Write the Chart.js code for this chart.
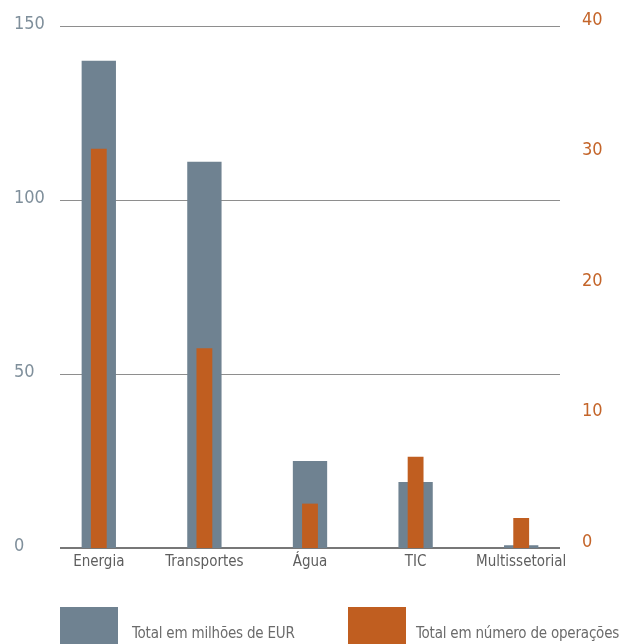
<!DOCTYPE html>
<html>
<head>
<meta charset="utf-8">
<script src="https://cdn.jsdelivr.net/npm/chart.js@4.4.1/dist/chart.umd.min.js"></script>
<style>
  html, body { margin: 0; padding: 0; background: #fff; }
  #wrap { position: relative; width: 630px; height: 644px; overflow: hidden; }
  #legend { position: absolute; left: 0; top: 0; width: 630px; height: 644px; pointer-events: none;
            font-family: "Liberation Sans Narrow", "DejaVu Sans Condensed", sans-serif; font-size: 15px; color: #6b6b6b; }
  .lg-box { position: absolute; top: 607px; width: 58px; height: 40px; }
  .lg-text { position: absolute; top: 624px; white-space: nowrap; letter-spacing: -0.2px; }
</style>
</head>
<body>
<div id="wrap">
  <canvas id="bar-chartcanvas-1" width="630" height="644"></canvas>
  <div id="legend"></div>
</div>
<script>
var sectors = ["Energia", "Transportes", "Água", "TIC", "Multissetorial"];
var totalEUR = [140, 111, 25, 19, 0.8];         // milhões de EUR, eixo esquerdo
var totalOps = [30.6, 15.3, 3.4, 7, 2.3];       // número de operações, eixo direito
var eurTicks = [0, 50, 100, 150];
var opsTicks = [0, 10, 20, 30, 40];

var seriesNames = ["Total em milhões de EUR", "Total em número de operações"];
var seriesColors = ["#6f8291", "#c05e20"];

var fontFamily = '"Liberation Sans Narrow", "DejaVu Sans Condensed", sans-serif';

// horizontal rules at the left axis ticks, slightly inset from the plot edges
var hLines = {
	id: "hLines",
	beforeDatasetsDraw: function (chart) {
		var ctx = chart.ctx;
		var area = chart.chartArea;
		var y = chart.scales.y;
		var x0 = area.left + 14, x1 = area.right - 14;
		ctx.save();
		eurTicks.forEach(function (v) {
			var py = Math.round(y.getPixelForValue(v));
			ctx.beginPath();
			if (v === 0) {
				ctx.strokeStyle = "#777";
				ctx.lineWidth = 2;
			} else {
				ctx.strokeStyle = "#8e8e8e";
				ctx.lineWidth = 1;
				py += 0.5;
			}
			ctx.moveTo(x0, py);
			ctx.lineTo(x1, py);
			ctx.stroke();
		});
		ctx.restore();
	}
};

var ctx = document.getElementById("bar-chartcanvas-1");

var data = {
	labels: sectors,
	datasets: [
		{
			label: seriesNames[0],
			data: totalEUR,
			yAxisID: "y",
			backgroundColor: seriesColors[0],
			grouped: false,
			barPercentage: 0.325,
			categoryPercentage: 1,
			order: 2
		},
		{
			label: seriesNames[1],
			data: totalOps,
			yAxisID: "y1",
			backgroundColor: seriesColors[1],
			grouped: false,
			barPercentage: 0.15,
			categoryPercentage: 1,
			order: 1
		}
	]
};

var optionsbar = {
	responsive: false,
	animation: false,
	layout: { padding: { left: 14, right: 0, top: 26, bottom: 0 } },
	plugins: {
		legend: { display: false },
		tooltip: { enabled: false }
	},
	scales: {
		x: {
			grid: { display: false, drawTicks: false },
			border: { display: false },
			ticks: {
				color: "#5e5e5e",
				padding: 5,
				font: { family: fontFamily, size: 15 },
				maxRotation: 0
			},
			afterFit: function (s) { s.height = 96; }
		},
		y: {
			position: "left",
			min: 0,
			max: 150,
			grid: { display: false, drawTicks: false },
			border: { display: false },
			afterBuildTicks: function (s) { s.ticks = eurTicks.map(function (v) { return { value: v }; }); },
			ticks: {
				color: "#7f8f9b",
				crossAlign: "far",
				labelOffset: -2,
				font: { family: fontFamily, size: 18 }
			},
			afterFit: function (s) { s.width = 32; }
		},
		y1: {
			position: "right",
			min: 0,
			max: 40,
			grid: { display: false, drawTicks: false },
			border: { display: false },
			afterBuildTicks: function (s) { s.ticks = opsTicks.map(function (v) { return { value: v }; }); },
			ticks: {
				color: "#c4652a",
				padding: 8,
				labelOffset: -6,
				font: { family: fontFamily, size: 18 }
			},
			afterFit: function (s) { s.width = 56; }
		}
	}
};

var bar = new Chart(ctx, {
	type: "bar",
	data: data,
	options: optionsbar,
	plugins: [hLines]
});

// legend under the plot
var legendPos = [{ box: 60, text: 132 }, { box: 348, text: 416 }];
var legend = document.getElementById("legend");
seriesNames.forEach(function (name, i) {
	var b = document.createElement("div");
	b.className = "lg-box";
	b.style.left = legendPos[i].box + "px";
	b.style.background = seriesColors[i];
	legend.appendChild(b);
	var t = document.createElement("div");
	t.className = "lg-text";
	t.style.left = legendPos[i].text + "px";
	t.textContent = name;
	legend.appendChild(t);
});
</script>
</body>
</html>
